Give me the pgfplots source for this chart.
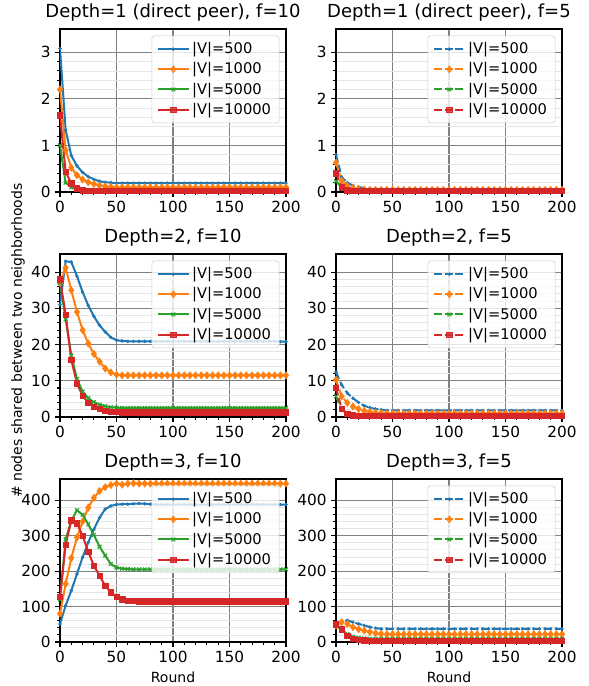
\documentclass[border=0pt]{standalone}
\usepackage{fontspec}
\setmainfont{DejaVu Sans}
\usepackage{pgfplots}
\usepackage{pgfplotstable}
\pgfplotsset{compat=1.18}

\definecolor{tabblue}{HTML}{1F77B4}
\definecolor{taborange}{HTML}{FF7F0E}
\definecolor{tabgreen}{HTML}{2CA02C}
\definecolor{tabred}{HTML}{D62728}

% depth=1, f=10
\pgfplotstableread{
x a b c d
0 3.08 2.20 1.00 1.65
5 1.33 0.90 0.20 0.43
10 0.78 0.52 0.10 0.19
15 0.56 0.36 0.06 0.08
20 0.42 0.27 0.045 0.04
25 0.33 0.21 0.04 0.03
30 0.27 0.17 0.035 0.025
35 0.23 0.14 0.03 0.02
40 0.21 0.12 0.03 0.02
45 0.20 0.11 0.03 0.02
50 0.19 0.10 0.03 0.02
55 0.19 0.10 0.03 0.02
60 0.19 0.10 0.03 0.02
65 0.19 0.10 0.03 0.02
70 0.19 0.10 0.03 0.02
75 0.19 0.10 0.03 0.02
80 0.19 0.10 0.03 0.02
85 0.19 0.10 0.03 0.02
90 0.19 0.10 0.03 0.02
95 0.19 0.10 0.03 0.02
100 0.19 0.10 0.03 0.02
105 0.19 0.10 0.03 0.02
110 0.19 0.10 0.03 0.02
115 0.19 0.10 0.03 0.02
120 0.19 0.10 0.03 0.02
125 0.19 0.10 0.03 0.02
130 0.19 0.10 0.03 0.02
135 0.19 0.10 0.03 0.02
140 0.19 0.10 0.03 0.02
145 0.19 0.10 0.03 0.02
150 0.19 0.10 0.03 0.02
155 0.19 0.10 0.03 0.02
160 0.19 0.10 0.03 0.02
165 0.19 0.10 0.03 0.02
170 0.19 0.10 0.03 0.02
175 0.19 0.10 0.03 0.02
180 0.19 0.10 0.03 0.02
185 0.19 0.10 0.03 0.02
190 0.19 0.10 0.03 0.02
195 0.19 0.10 0.03 0.02
200 0.19 0.10 0.03 0.02
}\tA

% depth=1, f=5
\pgfplotstableread{
x a b c d
0 0.80 0.63 0.23 0.40
5 0.32 0.24 0.10 0.10
10 0.20 0.13 0.05 0.04
15 0.14 0.09 0.04 0.03
20 0.11 0.06 0.03 0.02
25 0.08 0.05 0.03 0.02
30 0.07 0.045 0.03 0.02
35 0.06 0.045 0.03 0.02
40 0.055 0.045 0.03 0.02
45 0.055 0.045 0.03 0.02
50 0.055 0.045 0.03 0.02
55 0.055 0.045 0.03 0.02
60 0.055 0.045 0.03 0.02
65 0.055 0.045 0.03 0.02
70 0.055 0.045 0.03 0.02
75 0.055 0.045 0.03 0.02
80 0.055 0.045 0.03 0.02
85 0.055 0.045 0.03 0.02
90 0.055 0.045 0.03 0.02
95 0.055 0.045 0.03 0.02
100 0.055 0.045 0.03 0.02
105 0.055 0.045 0.03 0.02
110 0.055 0.045 0.03 0.02
115 0.055 0.045 0.03 0.02
120 0.055 0.045 0.03 0.02
125 0.055 0.045 0.03 0.02
130 0.055 0.045 0.03 0.02
135 0.055 0.045 0.03 0.02
140 0.055 0.045 0.03 0.02
145 0.055 0.045 0.03 0.02
150 0.055 0.045 0.03 0.02
155 0.055 0.045 0.03 0.02
160 0.055 0.045 0.03 0.02
165 0.055 0.045 0.03 0.02
170 0.055 0.045 0.03 0.02
175 0.055 0.045 0.03 0.02
180 0.055 0.045 0.03 0.02
185 0.055 0.045 0.03 0.02
190 0.055 0.045 0.03 0.02
195 0.055 0.045 0.03 0.02
200 0.055 0.045 0.03 0.02
}\tB

% depth=2, f=10
\pgfplotstableread{
x a b c d
0 31 37 37 38
5 43 41.2 27 28.3
10 42.8 35 17 15.8
15 38.9 29 10.5 9.3
20 34.5 24 7 5.8
25 30.8 20.3 5.2 4
30 27.8 17.4 4.1 2.9
35 25.3 15.3 3.4 2.2
40 23.5 13.4 3.0 1.8
45 22 12.3 2.7 1.5
50 21.2 11.7 2.6 1.4
55 21.0 11.5 2.5 1.35
60 20.9 11.5 2.5 1.3
65 20.9 11.5 2.5 1.3
70 20.9 11.5 2.5 1.3
75 20.9 11.5 2.5 1.3
80 20.9 11.5 2.5 1.3
85 20.9 11.5 2.5 1.3
90 20.9 11.5 2.5 1.3
95 20.9 11.5 2.5 1.3
100 20.9 11.5 2.5 1.3
105 20.9 11.5 2.5 1.3
110 20.9 11.5 2.5 1.3
115 20.9 11.5 2.5 1.3
120 20.9 11.5 2.5 1.3
125 20.9 11.5 2.5 1.3
130 20.9 11.5 2.5 1.3
135 20.9 11.5 2.5 1.3
140 20.9 11.5 2.5 1.3
145 20.9 11.5 2.5 1.3
150 20.9 11.5 2.5 1.3
155 20.9 11.5 2.5 1.3
160 20.9 11.5 2.5 1.3
165 20.9 11.5 2.5 1.3
170 20.9 11.5 2.5 1.3
175 20.9 11.5 2.5 1.3
180 20.9 11.5 2.5 1.3
185 20.9 11.5 2.5 1.3
190 20.9 11.5 2.5 1.3
195 20.8 11.5 2.5 1.3
200 20.8 11.5 2.5 1.3
}\tC

% depth=2, f=5
\pgfplotstableread{
x a b c d
0 12.4 10.3 5.7 8.0
5 8.9 5.7 2.0 2.3
10 6.6 3.9 0.9 0.9
15 5.2 2.9 0.6 0.5
20 4.0 2.2 0.5 0.35
25 3.1 1.7 0.5 0.3
30 2.6 1.4 0.5 0.3
35 2.2 1.2 0.5 0.3
40 2.0 1.1 0.5 0.3
45 1.8 1.0 0.5 0.3
50 1.8 1.0 0.5 0.3
55 1.8 1.0 0.5 0.3
60 1.8 1.0 0.5 0.3
65 1.8 1.0 0.5 0.3
70 1.8 1.0 0.5 0.3
75 1.8 1.0 0.5 0.3
80 1.8 1.0 0.5 0.3
85 1.8 1.0 0.5 0.3
90 1.8 1.0 0.5 0.3
95 1.8 1.0 0.5 0.3
100 1.8 1.0 0.5 0.3
105 1.8 1.0 0.5 0.3
110 1.8 1.0 0.5 0.3
115 1.8 1.0 0.5 0.3
120 1.8 1.0 0.5 0.3
125 1.8 1.0 0.5 0.3
130 1.8 1.0 0.5 0.3
135 1.8 1.0 0.5 0.3
140 1.8 1.0 0.5 0.3
145 1.8 1.0 0.5 0.3
150 1.8 1.0 0.5 0.3
155 1.8 1.0 0.5 0.3
160 1.8 1.0 0.5 0.3
165 1.8 1.0 0.5 0.3
170 1.8 1.0 0.5 0.3
175 1.8 1.0 0.5 0.3
180 1.8 1.0 0.5 0.3
185 1.8 1.0 0.5 0.3
190 1.8 1.0 0.5 0.3
195 1.8 1.0 0.5 0.3
200 1.8 1.0 0.5 0.3
}\tD

% depth=3, f=10
\pgfplotstableread{
x a b c d
0 51 80 120 128
5 103 164 290 274
10 145 237 342 344
15 192 295 372 335
20 239 340 359 300
25 281 379 332 255
30 318 407 302 215
35 351 426 269 187
40 375 437 244 159
45 384 443 220 140
50 388 447 210 128
55 389 444 207 121
60 389 447 206 117
65 390 448 205 116
70 391 447 205 115
75 390 447 205 115
80 389 447 205 115
85 388 447 205 115
90 388 447 205 115
95 388 447 205 115
100 388 447 205 115
105 388 447 205 115
110 388 447 205 115
115 388 447 205 115
120 388 447 205 115
125 388 447 205 115
130 388 447 205 115
135 388 447 205 115
140 388 447 205 115
145 388 447 205 115
150 388 447 205 115
155 388 447 205 115
160 388 447 205 115
165 388 447 205 115
170 388 447 205 115
175 388 447 205 115
180 388 447 205 115
185 388 447 205 115
190 388 447 205 115
195 388 447 205 115
200 388 447 205 115
}\tE

% depth=3, f=5
\pgfplotstableread{
x a b c d
0 47 47 45 50
5 58 56 35 36
10 61 51 22 18
15 56 42 15 10
20 51 36 12 7
25 47 32 10 5
30 42 28 9 4
35 39 25 9 4
40 37 23 9 4
45 37 22 9 4
50 37 22 9 4
55 37 22 9 4
60 37 22 9 4
65 37 22 9 4
70 37 22 9 4
75 37 22 9 4
80 37 22 9 4
85 37 22 9 4
90 37 22 9 4
95 37 22 9 4
100 37 22 9 4
105 37 22 9 4
110 37 22 9 4
115 37 22 9 4
120 37 22 9 4
125 37 22 9 4
130 37 22 9 4
135 37 22 9 4
140 37 22 9 4
145 37 22 9 4
150 37 22 9 4
155 37 22 9 4
160 37 22 9 4
165 37 22 9 4
170 37 22 9 4
175 37 22 9 4
180 37 22 9 4
185 37 22 9 4
190 37 22 9 4
195 37 22 9 4
200 37 22 9 4
}\tF

\pgfplotsset{
  panel/.style={
    scale only axis, width=169.5pt, height=122.25pt, anchor=south west,
    xmin=0, xmax=200, ymin=0,
    xtick={0,50,100,150,200}, minor x tick num=4, minor y tick num=4,
    xmajorgrids, ymajorgrids, yminorgrids,
    major grid style={color=black!50, line width=0.8pt},
    minor grid style={color=black!10, line width=0.6pt},
    axis line style={line width=0.8pt},
    tick align=outside, xtick pos=bottom, ytick pos=left,
    major tick length=3.5pt, minor tick length=2pt,
    every tick/.style={black, line width=0.8pt},
    tick label style={font=\fontsize{11.5}{13}\selectfont},
    /pgf/number format/assume math mode=true,
    title style={font=\fontsize{13.5}{15}\selectfont, yshift=-4pt},
    label style={font=\fontsize{10.5}{12}\selectfont},
    legend cell align=left,
    legend style={at={(1,1)}, anchor=north east, xshift=-5pt, yshift=-5pt,
      draw=black!20, rounded corners=2pt, fill=white, fill opacity=0.8,
      text opacity=1, font=\fontsize{11}{13}\selectfont,
      row sep=1.2pt, inner xsep=4pt, inner ysep=3pt},
    legend image code/.code={
      \draw[mark repeat=2, mark phase=2]
        plot coordinates {(0cm,0cm) (0.4cm,0cm) (0.8cm,0cm)};},
  },
  s500/.style={color=tabblue, line width=1.5pt, mark=*, mark size=1.1pt,
    mark options={solid, line width=0.4pt}},
  s1000/.style={color=taborange, line width=1.5pt, mark=diamond*, mark size=2.7pt,
    mark options={solid, line width=0.4pt}},
  s5000/.style={color=tabgreen, line width=1.5pt, mark=x, mark size=2pt,
    mark options={solid, line width=0.9pt}},
  s10000/.style={color=tabred, line width=1.5pt, mark=square*, mark size=2pt,
    mark options={solid, line width=0.4pt}},
  dsh/.style={dash pattern=on 5.5pt off 2.4pt},
}

\begin{document}
\begin{tikzpicture}
\useasboundingbox (0,0) rectangle (441.75pt,514.5pt);

% row 1
\begin{axis}[panel, at={(45pt,370.5pt)}, ymax=3.5, ytick={0,1,2,3},
  title={Depth=1 (direct peer), f=10}]
  \addplot[s500] table[x=x,y=a]{\tA}; \addlegendentry{|V|=500}
  \addplot[s1000] table[x=x,y=b]{\tA}; \addlegendentry{|V|=1000}
  \addplot[s5000] table[x=x,y=c]{\tA}; \addlegendentry{|V|=5000}
  \addplot[s10000] table[x=x,y=d]{\tA}; \addlegendentry{|V|=10000}
\end{axis}
\begin{axis}[panel, at={(252pt,370.5pt)}, ymax=3.5, ytick={0,1,2,3},
  title={Depth=1 (direct peer), f=5}]
  \addplot[s500,dsh] table[x=x,y=a]{\tB}; \addlegendentry{|V|=500}
  \addplot[s1000,dsh] table[x=x,y=b]{\tB}; \addlegendentry{|V|=1000}
  \addplot[s5000,dsh] table[x=x,y=c]{\tB}; \addlegendentry{|V|=5000}
  \addplot[s10000,dsh] table[x=x,y=d]{\tB}; \addlegendentry{|V|=10000}
\end{axis}

% row 2
\begin{axis}[panel, at={(45pt,201.75pt)}, ymax=45, ytick={0,10,20,30,40},
  title={Depth=2, f=10}]
  \addplot[s500] table[x=x,y=a]{\tC}; \addlegendentry{|V|=500}
  \addplot[s1000] table[x=x,y=b]{\tC}; \addlegendentry{|V|=1000}
  \addplot[s5000] table[x=x,y=c]{\tC}; \addlegendentry{|V|=5000}
  \addplot[s10000] table[x=x,y=d]{\tC}; \addlegendentry{|V|=10000}
\end{axis}
\begin{axis}[panel, at={(252pt,201.75pt)}, ymax=45, ytick={0,10,20,30,40},
  title={Depth=2, f=5}]
  \addplot[s500,dsh] table[x=x,y=a]{\tD}; \addlegendentry{|V|=500}
  \addplot[s1000,dsh] table[x=x,y=b]{\tD}; \addlegendentry{|V|=1000}
  \addplot[s5000,dsh] table[x=x,y=c]{\tD}; \addlegendentry{|V|=5000}
  \addplot[s10000,dsh] table[x=x,y=d]{\tD}; \addlegendentry{|V|=10000}
\end{axis}

% row 3
\begin{axis}[panel, at={(45pt,33pt)}, ymax=460, ytick={0,100,200,300,400},
  title={Depth=3, f=10}, xlabel={Round}]
  \addplot[s500] table[x=x,y=a]{\tE}; \addlegendentry{|V|=500}
  \addplot[s1000] table[x=x,y=b]{\tE}; \addlegendentry{|V|=1000}
  \addplot[s5000] table[x=x,y=c]{\tE}; \addlegendentry{|V|=5000}
  \addplot[s10000] table[x=x,y=d]{\tE}; \addlegendentry{|V|=10000}
\end{axis}
\begin{axis}[panel, at={(252pt,33pt)}, ymax=460, ytick={0,100,200,300,400},
  title={Depth=3, f=5}, xlabel={Round}]
  \addplot[s500,dsh] table[x=x,y=a]{\tF}; \addlegendentry{|V|=500}
  \addplot[s1000,dsh] table[x=x,y=b]{\tF}; \addlegendentry{|V|=1000}
  \addplot[s5000,dsh] table[x=x,y=c]{\tF}; \addlegendentry{|V|=5000}
  \addplot[s10000,dsh] table[x=x,y=d]{\tF}; \addlegendentry{|V|=10000}
\end{axis}

\node[rotate=90, font=\fontsize{10.5}{12}\selectfont] at (13.5pt,259pt)
  {\# nodes shared between two neighborhoods};
\end{tikzpicture}
\end{document}
